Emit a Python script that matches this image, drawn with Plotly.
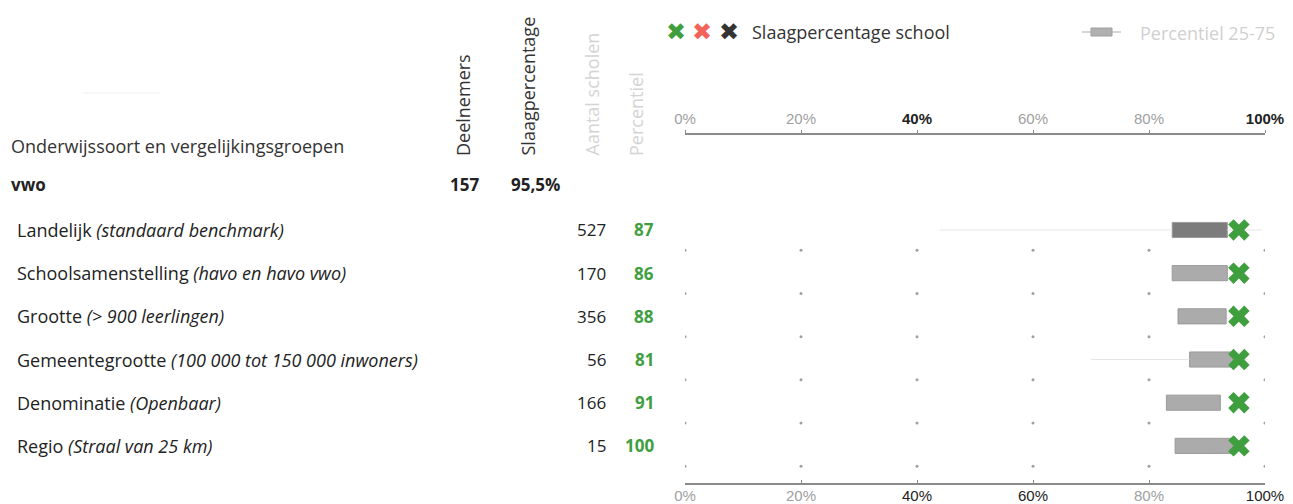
import plotly.graph_objects as go

# data
groepen = ["Landelijk", "Schoolsamenstelling", "Grootte", "Gemeentegrootte", "Denominatie", "Regio"]
toelichting = ["(standaard benchmark)", "(havo en havo vwo)", "(> 900 leerlingen)",
               "(100 000 tot 150 000 inwoners)", "(Openbaar)", "(Straal van 25 km)"]
aantal_scholen = [527, 170, 356, 56, 166, 15]
percentiel = [87, 86, 88, 81, 91, 100]
p25 = [84.0, 84.0, 85.0, 87.0, 83.0, 84.5]
p75 = [93.5, 93.5, 93.3, 95.0, 92.3, 95.0]
whisker_lo = [44, None, None, 70, None, None]
whisker_hi = [99.5, None, None, 97, None, None]
school = [95.5, 95.5, 95.5, 95.5, 95.5, 95.5]
deelnemers = 157
slaagpercentage = "95,5%"
tick_vals = [0, 20, 40, 60, 80, 100]
tick_style_top = ["grey", "grey", "bold", "grey", "grey", "bold"]
tick_style_bottom = ["grey", "grey", "dark", "dark", "grey", "dark"]

# page body has an 8px margin, so the figure is a bit smaller and shifted
OFF = 8
W, H = 1293 - OFF, 504 - OFF
FONT = "Open Sans"
GREEN = "#3f9f3f"

def px(x):
    return (x - OFF) / W

def py(y):
    return 1 - (y - OFF) / H

rows = list(range(len(groepen)))

fig = go.Figure()

# faint whiskers (left and right of the box)
for r in rows:
    if whisker_lo[r] is not None:
        fig.add_trace(go.Scatter(x=[whisker_lo[r], p25[r], None, p75[r], whisker_hi[r]],
                                 y=[r, r, None, r, r], mode="lines",
                                 line=dict(color="#e4e4e4", width=1), hoverinfo="skip"))

# percentiel 25-75 bars
bar_cols = ["#7c7c7c"] + ["#ababab"] * (len(rows) - 1)
fig.add_trace(go.Bar(
    x=[b - a for a, b in zip(p25, p75)], base=p25, y=rows, orientation="h",
    width=0.35, marker=dict(color=bar_cols, line=dict(color="#9a9a9a", width=1)),
    hoverinfo="skip"))

# grid dots under each row
dot_x, dot_y = [], []
for r in rows:
    for t in tick_vals:
        dot_x.append(t)
        dot_y.append(r + 0.47)
fig.add_trace(go.Scatter(x=dot_x, y=dot_y, mode="markers",
                         marker=dict(size=3, color="#a0a0a0"), hoverinfo="skip"))

# school marker
fig.add_trace(go.Scatter(x=school, y=rows, mode="markers",
                         marker=dict(symbol="x", size=19, color=GREEN, line=dict(width=0)),
                         hoverinfo="skip", cliponaxis=False))

# bottom axis dummy trace
fig.add_trace(go.Scatter(x=[0, 100], y=[0, 0], xaxis="x2", mode="markers",
                         marker=dict(opacity=0), hoverinfo="skip"))

def ticktext(styles):
    out = []
    for v, s in zip(tick_vals, styles):
        if s == "bold":
            out.append(f"<b><span style='color:#222'>{v}%</span></b>")
        elif s == "dark":
            out.append(f"<span style='color:#222'>{v}%</span>")
        else:
            out.append(f"<span style='color:#a0a0a0'>{v}%</span>")
    return out

axis_common = dict(range=[0, 100], tickvals=tick_vals, showgrid=False, zeroline=False,
                   showline=True, linecolor="#8a8a8a", linewidth=2,
                   tickcolor="#8a8a8a", tickfont=dict(family="Liberation Sans", size=15),
                   automargin=False)

fig.update_layout(
    width=W, height=H,
    margin=dict(l=0, r=0, t=0, b=0),
    paper_bgcolor="white", plot_bgcolor="white",
    showlegend=False,
    template="none",
    xaxis=dict(domain=[px(685), px(1265)], side="top", anchor="y", ticks="outside", ticklen=3,
               ticktext=ticktext(tick_style_top), **axis_common),
    xaxis2=dict(domain=[px(685), px(1265)], side="bottom", anchor="y", overlaying="x",
                ticks="inside", ticklen=3, ticklabelstandoff=-2,
                ticktext=ticktext(tick_style_bottom), **axis_common),
    yaxis=dict(domain=[py(483), py(135)], range=[5.86, -2.2], visible=False),
)

ann = []
# header
ann.append(dict(x=px(9), y=py(146), xref="paper", yref="paper", xanchor="left", yanchor="middle",
                text="Onderwijssoort en vergelijkingsgroepen", showarrow=False,
                font=dict(family=FONT, size=18, color="#333")))
ann.append(dict(x=px(9), y=py(184), xref="paper", yref="paper", xanchor="left", yanchor="middle",
                text="<b>vwo</b>", showarrow=False, font=dict(family=FONT, size=17, color="#222")))
ann.append(dict(x=px(481), y=py(184), xref="paper", yref="paper", xanchor="right", yanchor="middle",
                text=f"<b>{deelnemers}</b>", showarrow=False, font=dict(family=FONT, size=17, color="#222")))
ann.append(dict(x=px(562), y=py(184), xref="paper", yref="paper", xanchor="right", yanchor="middle",
                text=f"<b>{slaagpercentage}</b>", showarrow=False, font=dict(family=FONT, size=17, color="#222")))

# rotated column headers
for xc, label, col in [(463, "Deelnemers", "#333"), (527, "Slaagpercentage", "#333"),
                       (591, "Aantal scholen", "#d4d4d4"), (636, "Percentiel", "#d4d4d4")]:
    ann.append(dict(x=px(xc), y=py(158), xref="paper", yref="paper", xanchor="center", yanchor="bottom",
                    text=label, textangle=-90, showarrow=False,
                    font=dict(family=FONT, size=18, color=col)))

# rows
for r in rows:
    ann.append(dict(x=px(15), y=r, xref="paper", yref="y", xanchor="left", yanchor="middle",
                    text=f"{groepen[r]} <i>{toelichting[r]}</i>", showarrow=False,
                    font=dict(family=FONT, size=18, color="#222")))
    ann.append(dict(x=px(608), y=r, xref="paper", yref="y", xanchor="right", yanchor="middle",
                    text=str(aantal_scholen[r]), showarrow=False,
                    font=dict(family=FONT, size=17, color="#222")))
    ann.append(dict(x=px(656), y=r, xref="paper", yref="y", xanchor="right", yanchor="middle",
                    text=f"<b>{percentiel[r]}</b>", showarrow=False,
                    font=dict(family=FONT, size=17, color=GREEN)))

# legend
for xc, col in [(676, GREEN), (702, "#f2645a"), (729, "#333333")]:
    ann.append(dict(x=px(xc), y=py(32), xref="paper", yref="paper", xanchor="center", yanchor="middle",
                    text="✖", showarrow=False, font=dict(family="DejaVu Sans", size=24, color=col)))
ann.append(dict(x=px(750), y=py(32), xref="paper", yref="paper", xanchor="left", yanchor="middle",
                text="Slaagpercentage school", showarrow=False,
                font=dict(family=FONT, size=18, color="#333")))
ann.append(dict(x=px(1138), y=py(33), xref="paper", yref="paper", xanchor="left", yanchor="middle",
                text="Percentiel 25-75", showarrow=False,
                font=dict(family=FONT, size=18, color="#d0d0d0")))
fig.update_layout(annotations=ann)

fig.add_shape(type="line", xref="paper", yref="paper", x0=px(1082), x1=px(1121), y0=py(32), y1=py(32),
              line=dict(color="#c8c8c8", width=1.5))
fig.add_shape(type="rect", xref="paper", yref="paper", x0=px(1091), x1=px(1112), y0=py(36), y1=py(28),
              fillcolor="#b0b0b0", line=dict(color="#a0a0a0", width=1))
fig.add_shape(type="line", xref="paper", yref="paper", x0=px(83), x1=px(160), y0=py(93), y1=py(93),
              line=dict(color="#eeeeee", width=1))

fig.write_html("out.html")
